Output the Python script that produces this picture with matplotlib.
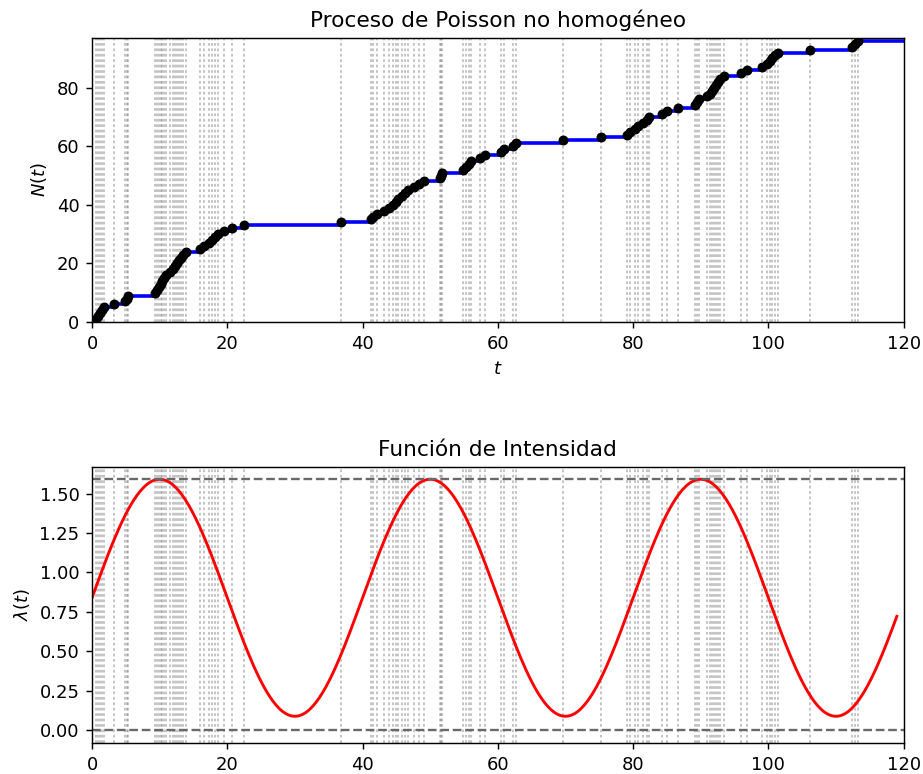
"""Proceso de Poisson no homogeneo: trayectoria y funcion de intensidad."""

import matplotlib
matplotlib.use('Agg')  # Use non-interactive backend
import matplotlib.pyplot as plt
import numpy as np

plt.rcParams['font.family'] = 'DejaVu Sans'

# Tiempos de llegada
event_times = [
    0.6, 0.9, 1.2, 1.5, 1.8,
    3.2,
    4.9, 5.1, 5.3,
    9.3, 9.6, 9.9, 10.2, 10.4, 10.7, 11.0, 11.5, 11.9, 12.2, 12.6, 12.9, 13.2, 13.5, 13.9,
    16.0, 16.5, 17.3, 17.7, 18.2, 18.7, 19.5, 20.7, 22.4,
    36.8,
    41.2, 41.6, 42.1, 43.1, 43.9, 44.5, 44.9, 45.3, 45.9, 46.3, 46.7, 47.6, 48.4, 49.1,
    51.4, 51.6, 51.8,
    54.9, 55.3, 55.7, 56.1, 57.4, 58.1, 60.4, 60.9, 62.3, 62.7,
    69.6,
    75.3,
    79.1, 79.5, 80.3, 80.8, 81.4, 82.0, 82.3,
    84.3, 85.0,
    86.6,
    89.2, 89.5, 89.8, 90.9, 91.3, 91.6, 91.9, 92.2, 92.5, 92.8, 93.5,
    96.0, 96.8,
    99.0,
    99.8, 100.2, 100.6, 101.0, 101.5,
    106.2,
    112.4, 112.8, 113.2,
]

T_MAX = 120
T_CURVE_END = 119
# Parametros de la intensidad lambda(t) = base + amp * sin(2 pi t / period)
LAMBDA_BASE = 0.84
LAMBDA_AMP = 0.75
LAMBDA_PERIOD = 40.0


def intensity(t):
    return LAMBDA_BASE + LAMBDA_AMP * np.sin(2 * np.pi * t / LAMBDA_PERIOD)


times = np.array(event_times)
counts = np.arange(1, len(times) + 1)

DPI = 130
fig = plt.figure(figsize=(923 / DPI, 774 / DPI), dpi=DPI)
ax1 = fig.add_axes([0.0997, 0.584, 0.8793, 0.367])
ax2 = fig.add_axes([0.0997, 0.040, 0.8793, 0.357])

vline_style = dict(color='gray', linestyle=(0, (1.5, 1.5)), alpha=0.5, linewidth=1)

# Trayectoria
for t in times:
    ax1.axvline(t, **vline_style)
step_t = np.concatenate([[0], times, [T_MAX]])
step_n = np.concatenate([[0], counts, [counts[-1]]])
ax1.step(step_t, step_n, where='post', color='blue', linewidth=2)
ax1.plot(times, counts, 'o', color='black', markersize=4.5)
ax1.set_xlim(0, T_MAX)
ax1.set_ylim(0, len(times) + 1)
ax1.set_xlabel('$t$')
ax1.set_ylabel('$N(t)$')
ax1.set_title('Proceso de Poisson no homogéneo')

# Funcion de intensidad
tt = np.linspace(0, T_CURVE_END, 500)
lam = intensity(tt)
for t in times:
    ax2.axvline(t, **vline_style)
ax2.plot(tt, lam, color='red', linewidth=1.6)
ax2.axhline(0, color='dimgray', linestyle='--', linewidth=1.3)
ax2.axhline(LAMBDA_BASE + LAMBDA_AMP, color='dimgray', linestyle='--', linewidth=1.3)
ax2.set_xlim(0, T_MAX)
ax2.set_yticks(np.arange(0, 1.51, 0.25))
ax2.yaxis.set_major_formatter(plt.FuncFormatter(lambda x, p: f'{x:.2f}'))
ax2.set_ylabel(r'$\lambda(t)$')
ax2.set_title('Función de Intensidad')

plt.savefig('out.png', dpi=DPI)
plt.close(fig)
